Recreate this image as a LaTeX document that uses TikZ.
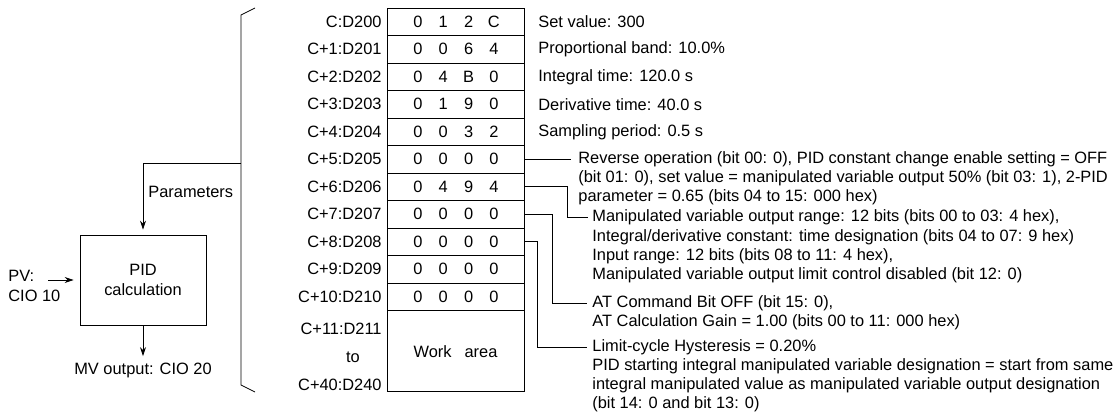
\documentclass[tikz,border=0pt]{standalone}
\usepackage{fontspec}
\setmainfont{Liberation Sans}
\usetikzlibrary{arrows.meta}

\tikzset{
  txt/.style={inner sep=0pt, font=\fontsize{16.4}{19.5}\selectfont},
  cell/.style={draw, minimum width=137pt, minimum height=27.5pt, inner sep=0pt},
  arr/.style={-{Stealth[length=9pt,width=6pt]}}
}

\begin{document}
\begin{tikzpicture}[x=1pt,y=-1pt,line width=0.8pt]
\useasboundingbox (0,0) rectangle (1120,414);
% register table
\foreach \lab/\val [count=\i from 0] in {C:D200/{0,1,2,C}, C+1:D201/{0,0,6,4}, C+2:D202/{0,4,B,0},
    C+3:D203/{0,1,9,0}, C+4:D204/{0,0,3,2}, C+5:D205/{0,0,0,0}, C+6:D206/{0,4,9,4}, C+7:D207/{0,0,0,0},
    C+8:D208/{0,0,0,0}, C+9:D209/{0,0,0,0}, C+10:D210/{0,0,0,0}}{
  \node[cell] (r\i) at (455.5,8+27.5*\i+13.75) {};
  \node[txt, anchor=east] (l\i) at (382,8+27.5*\i+13.75) {\lab};
  \foreach \d [count=\k from 0] in \val{
    \node[txt] (d\i\k) at (418+25.3*\k,8+27.5*\i+13.75) {\d};
  }
}
\node[draw, minimum width=137pt, minimum height=81pt, inner sep=0pt] (work) at (455.5,350.5) {};
\node[txt] (worktxt) at (455.5,352) {Work\hspace{13pt}area};
\node[txt, anchor=east] (l11) at (382,329) {C+11:D211};
\node[txt] (lto) at (353,357) {to};
\node[txt, anchor=east] (l40) at (382,385) {C+40:D240};

% plain values
\node[txt, anchor=west] (v0) at (538,22) {Set value: 300};
\node[txt, anchor=west] (v1) at (538,49.5) {Proportional band: 10.0\%};
\node[txt, anchor=west] (v2) at (538,77) {Integral time: 120.0 s};
\node[txt, anchor=west] (v3) at (538,104.5) {Derivative time: 40.0 s};
\node[txt, anchor=west] (v4) at (538,132) {Sampling period: 0.5 s};

% bit settings
\node[txt, anchor=west] (s5a) at (578,159.25) {Reverse operation (bit 00: 0), PID constant change enable setting = OFF};
\node[txt, anchor=west] (s5b) at (578,178) {(bit 01: 0), set value = manipulated variable output 50\% (bit 03: 1), 2-PID};
\node[txt, anchor=west] (s5c) at (578,197) {parameter = 0.65 (bits 04 to 15: 000 hex)};
\node[txt, anchor=west] (s6a) at (592,217) {Manipulated variable output range: 12 bits (bits 00 to 03: 4 hex),};
\node[txt, anchor=west] (s6b) at (592,237) {Integral/derivative constant: time designation (bits 04 to 07: 9 hex)};
\node[txt, anchor=west] (s6c) at (592,256) {Input range: 12 bits (bits 08 to 11: 4 hex),};
\node[txt, anchor=west] (s6d) at (592,275) {Manipulated variable output limit control disabled (bit 12: 0)};
\node[txt, anchor=west] (s7a) at (592,303) {AT Command Bit OFF (bit 15: 0),};
\node[txt, anchor=west] (s7b) at (592,322) {AT Calculation Gain = 1.00 (bits 00 to 11: 000 hex)};
\node[txt, anchor=west] (s8a) at (592,347) {Limit-cycle Hysteresis = 0.20\%};
\node[txt, anchor=west] (s8b) at (592,366) {PID starting integral manipulated variable designation = start from same};
\node[txt, anchor=west] (s8c) at (592,385) {integral manipulated value as manipulated variable output designation};
\node[txt, anchor=west] (s8d) at (592,404) {(bit 14: 0 and bit 13: 0)};

\draw (r5.east) -- (s5a.west -| 571,0);
\draw (r6.east) -- (567,186.75) |- (s6a.west -| 588,0);
\draw (r7.east) -- (552,214.25) |- (s7a.west -| 587,0);
\draw (r8.east) -- (537,241.75) |- (s8a.west -| 587,0);

% PID block
\node[draw, minimum width=126pt, minimum height=90pt, txt, align=center] (pid) at (143,280)
  {PID\\calculation};
\node[txt, anchor=north west, align=left] (pv) at (8,270) {PV:\\CIO 10};
\coordinate (pvend) at (48,280);
\draw[arr] (pvend) -- ([xshift=-6pt]pid.west |- pvend);
\node[txt] (mv) at (143,370) {MV output: CIO 20};
\draw[arr] (pid.south) -- ([yshift=6pt]mv.north);

% brace
\coordinate (bt) at (255,8);
\coordinate (bb) at (255,392);
\coordinate (bm) at (241,163);
\draw (bt) -- (241,15) -- (241,385) -- (bb);
\draw[arr] (bm) -| ([yshift=5pt]pid.north);
\node[txt, anchor=west] (par) at (148,192) {Parameters};
\end{tikzpicture}
\end{document}
